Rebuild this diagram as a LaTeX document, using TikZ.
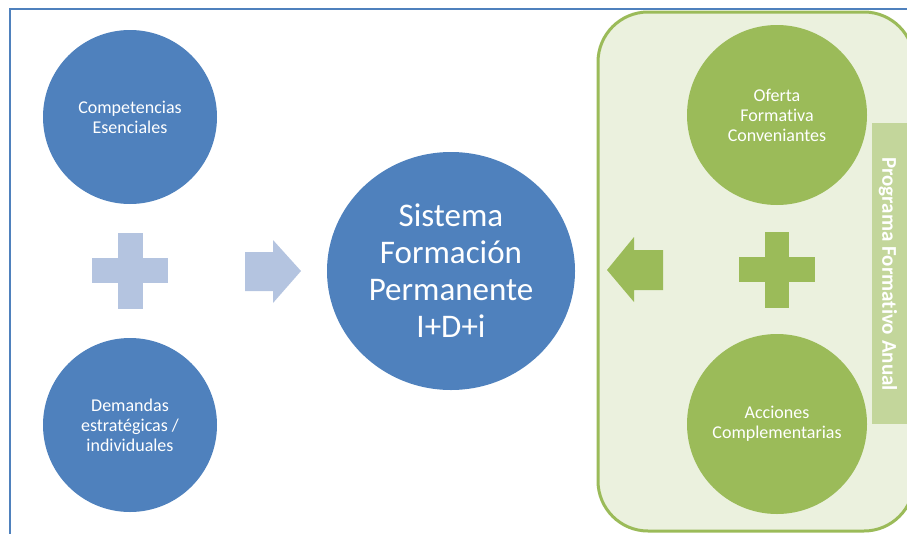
\documentclass[tikz,border=0pt]{standalone}
\usepackage{fontspec}
\setmainfont{Carlito}[Ligatures=NoCommon]
\usetikzlibrary{shapes.geometric}
\definecolor{blueA}{HTML}{4F81BD}
\definecolor{blueL}{HTML}{B4C4E0}
\definecolor{greenA}{HTML}{9BBB59}
\definecolor{greenP}{HTML}{EBF1DE}
\definecolor{greenL}{HTML}{C3D69B}
\tikzset{
  bcirc/.style={circle, fill=blueA, draw=none, text=white, align=center, inner sep=0pt, font=\fontsize{18}{20}\selectfont},
  gcirc/.style={circle, fill=greenA, draw=none, text=white, align=center, inner sep=0pt, font=\fontsize{18}{20}\selectfont},
  bigcirc/.style={ellipse, fill=blueA, draw=none, text=white, align=center, inner sep=0pt, font=\fontsize{33}{37}\selectfont},
}
\begin{document}
\begin{tikzpicture}[x=1pt,y=-1pt]
\useasboundingbox (0,0) rectangle (907,533);
% blue frame
\draw[blueA, line width=2pt] (10,545) -- (10,9) -- (920,9);
% green panel
\draw[greenA, fill=greenP, line width=3pt, rounded corners=50pt] (598,531) -- (598,12) -- (914,12) -- (914,531) -- cycle;
% label bar
\node[fill=greenL, minimum width=36pt, minimum height=301pt, inner sep=0pt, anchor=north west] (bar) at (872,123) {};
\node[rotate=-90, text=white, font=\bfseries\fontsize{21}{24}\selectfont] (barlbl) at (888,274) {Programa Formativo Anual};
% blue circles
\node[bcirc, minimum size=174pt] (ce) at (130,117) {Competencias\\Esenciales};
\node[bcirc, minimum size=174pt] (de) at (130,425) {Demandas\\estratégicas /\\individuales};
\node[bigcirc, minimum width=248pt, minimum height=238pt] (sf) at (451,271) {Sistema\\Formación\\Permanente\\I+D+i};
% green circles
\node[gcirc, minimum size=180pt] (of) at (777,115) {Oferta\\Formativa\\Conveniantes};
\node[gcirc, minimum size=180pt] (ac) at (777,424) {Acciones\\Complementarias};
% left plus
\fill[blueL] (92,258) rectangle (168,283);
\fill[blueL] (118,233) rectangle (143,309);
% right plus
\fill[greenA] (739,257) rectangle (815,282);
\fill[greenA] (765,232) rectangle (789,308);
% right arrow (blue)
\fill[blueL] (245,252) -- (273,252) -- (273,240) -- (301,271) -- (273,303) -- (273,291) -- (245,291) -- cycle;
% left arrow (green)
\fill[greenA] (663,250) -- (634,250) -- (634,237) -- (607,270) -- (634,302) -- (634,290) -- (663,290) -- cycle;
\end{tikzpicture}
\end{document}
